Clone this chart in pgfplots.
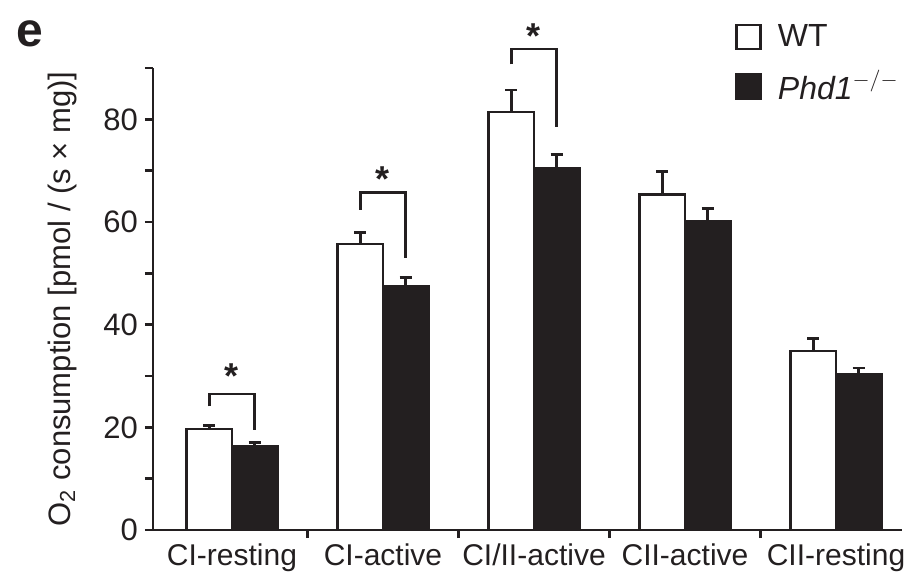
\documentclass[border=0pt]{standalone}
\usepackage{pgfplots}
\pgfplotsset{compat=1.18}
\usepackage{fontspec}
\setmainfont{Liberation Sans}
\definecolor{ink}{RGB}{35,31,32}
\pgfplotsset{sqlegend/.style={legend image code/.code={\draw[##1,line width=1.3pt] (0pt,-6pt) rectangle (12pt,6pt);}}}
\begin{document}
\begin{tikzpicture}[font=\fontsize{15.5}{18}\selectfont, color=ink]
\begin{axis}[
  at={(0pt,0pt)}, anchor=south west,
  scale only axis, width=374.5pt, height=231pt,
  xmin=-0.523, xmax=4.437, ymin=0, ymax=90,
  clip=false,
  axis x line=bottom, axis y line=left,
  axis line style={-, line width=1.3pt, draw=ink},
  tick align=outside, major tick length=4pt,
  tick style={line width=1.3pt, draw=ink},
  ytick={0,10,...,90}, yticklabels={0,,20,,40,,60,,80,},
  xtick={0.5,1.5,2.5,3.5}, xticklabels={},
  extra x ticks={0,1,2,3,4},
  extra x tick labels={CI-resting,CI-active,CI/II-active,CII-active,CII-resting},
  extra x tick style={major tick length=0pt},
  xticklabel style={font=\fontsize{15}{18}\selectfont, yshift=-3.5pt, inner xsep=0pt},
  /pgf/number format/assume math mode=true,
  ylabel={O\textsubscript{2} consumption [pmol / (s × mg)]},
  ylabel style={at={(axis description cs:-0.1215,0.5)}, anchor=center},
  ybar, bar width=0.3,
  legend style={at={(0.777,1.104)}, anchor=north west, draw=none, fill=none,
    inner sep=0pt, font=\fontsize{16}{19}\selectfont, row sep=6.5pt,
    /tikz/every odd column/.append style={column sep=6pt}},
  legend cell align=left,
]
\addplot[sqlegend, bar shift=-0.15, fill=white, draw=ink, line width=1.3pt,
  error bars/.cd, y dir=plus, y explicit,
  error bar style={line width=1.3pt, draw=ink},
  error mark options={rotate=90, mark size=3pt, line width=1.3pt, draw=ink}]
  coordinates {(0,19.7) +- (0,0.7) (1,55.7) +- (0,2.3) (2,81.4) +- (0,4.3) (3,65.4) +- (0,4.5) (4,34.9) +- (0,2.4)};
\addlegendentry{WT}
\addplot[sqlegend, bar shift=0.15, fill=ink, draw=ink, line width=1.3pt,
  error bars/.cd, y dir=plus, y explicit,
  error bar style={line width=1.3pt, draw=ink},
  error mark options={rotate=90, mark size=3pt, line width=1.3pt, draw=ink}]
  coordinates {(0,16.4) +- (0,0.6) (1,47.4) +- (0,1.8) (2,70.4) +- (0,2.8) (3,60.1) +- (0,2.5) (4,30.3) +- (0,1.3)};
\addlegendentry{\textit{Phd1}$^{-/-}$}
\draw[line width=1.3pt, draw=ink] (axis cs:-0.15,24.1) -- (axis cs:-0.15,26.5) -- (axis cs:0.15,26.5) -- (axis cs:0.15,19.4);
\draw[line width=1.3pt, draw=ink] (axis cs:0.85,62.4) -- (axis cs:0.85,65.8) -- (axis cs:1.15,65.8) -- (axis cs:1.15,52.9);
\draw[line width=1.3pt, draw=ink] (axis cs:1.85,90.7) -- (axis cs:1.85,93.7) -- (axis cs:2.15,93.7) -- (axis cs:2.15,78.6);
\node[font=\fontsize{18}{20}\selectfont\bfseries, yshift=-4pt] at (axis cs:0,31.6) {*};
\node[font=\fontsize{18}{20}\selectfont\bfseries, yshift=-4pt] at (axis cs:1,70) {*};
\node[font=\fontsize{18}{20}\selectfont\bfseries, yshift=-4pt] at (axis cs:2,97.8) {*};
\end{axis}
\node[font=\fontsize{24}{28}\selectfont\bfseries] at (-61.5pt,248pt) {e};
\pgfresetboundingbox
\path[use as bounding box] (-76.5pt,-22.5pt) rectangle (375.5pt,265pt);
\end{tikzpicture}
\end{document}
